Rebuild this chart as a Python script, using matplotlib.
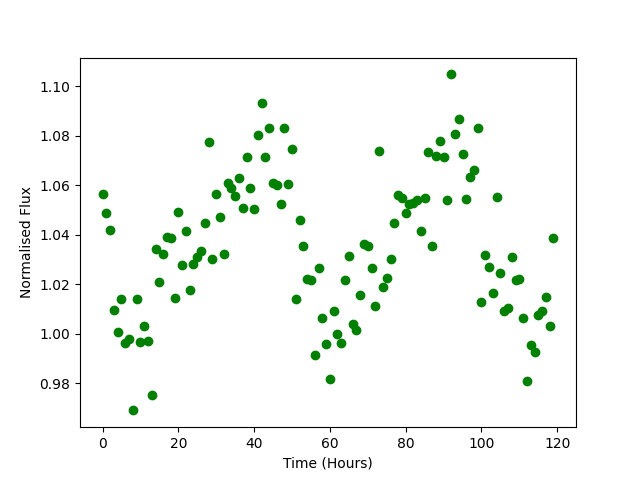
#!/usr/bin/env python3

import matplotlib; matplotlib.use('Agg')
import matplotlib.pyplot as plt
import numpy as np

## one reading per hour
hours = np.arange(120)

flux = [
    1.0566, 1.0486, 1.0421, 1.0095, 1.0009, 1.0142, 0.9963, 0.9979, 0.9691, 1.0142,
    0.9967, 1.0033, 0.9972, 0.9752, 1.0344, 1.0211, 1.0324, 1.0389, 1.0388, 1.0146,
    1.0490, 1.0276, 1.0413, 1.0178, 1.0280, 1.0310, 1.0336, 1.0449, 1.0774, 1.0300,
    1.0566, 1.0473, 1.0324, 1.0608, 1.0588, 1.0558, 1.0628, 1.0506, 1.0712, 1.0587,
    1.0502, 1.0801, 1.0930, 1.0712, 1.0829, 1.0608, 1.0599, 1.0522, 1.0829, 1.0603,
    1.0744, 1.0139, 1.0461, 1.0356, 1.0220, 1.0216, 0.9913, 1.0267, 1.0063, 0.9960,
    0.9819, 1.0091, 0.9998, 0.9964, 1.0216, 1.0316, 1.0038, 1.0017, 1.0158, 1.0362,
    1.0356, 1.0267, 1.0114, 1.0736, 1.0187, 1.0227, 1.0300, 1.0449, 1.0560, 1.0549,
    1.0486, 1.0522, 1.0530, 1.0542, 1.0417, 1.0550, 1.0732, 1.0356, 1.0718, 1.0777,
    1.0714, 1.0542, 1.1047, 1.0805, 1.0865, 1.0724, 1.0546, 1.0631, 1.0661, 1.0829,
    1.0130, 1.0320, 1.0271, 1.0166, 1.0554, 1.0247, 1.0092, 1.0106, 1.0312, 1.0217,
    1.0223, 1.0065, 0.9811, 0.9954, 0.9926, 1.0074, 1.0094, 1.0150, 1.0033, 1.0385,
]

plt.figure(figsize=(6.4, 4.8), dpi=100)
plt.plot(hours, flux, 'go')
plt.xlabel('Time (Hours)')
plt.ylabel('Normalised Flux')
plt.savefig('out.png')
